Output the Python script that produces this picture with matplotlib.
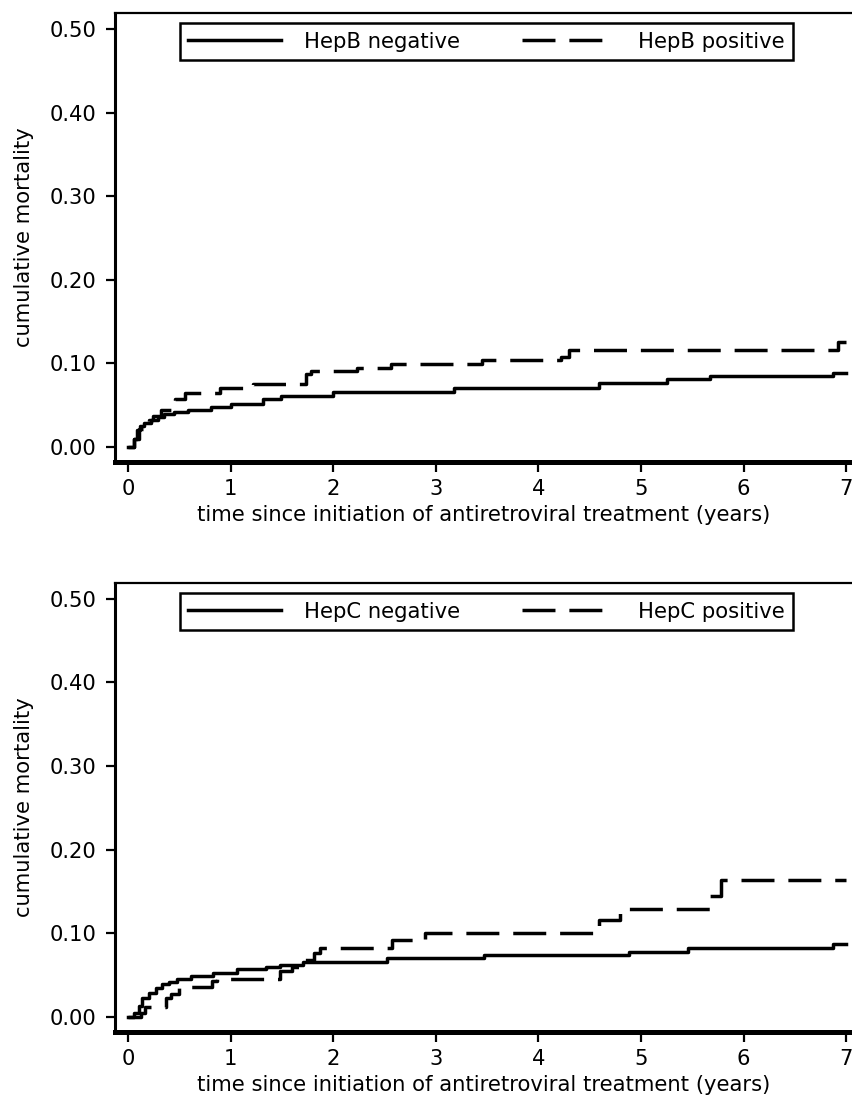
import matplotlib
matplotlib.use("Agg")
import matplotlib.pyplot as plt

plt.rcParams['font.family'] = ['DejaVu Sans']
plt.rcParams['font.size'] = 15.2

# HepB panel
hepb_neg_t = [0, 0.06, 0.09, 0.12, 0.16, 0.22, 0.29, 0.35, 0.45, 0.58, 0.81, 1.0,
              1.32, 1.49, 2.0, 3.18, 4.59, 5.25, 5.67, 6.87, 7.0]
hepb_neg_v = [0, 0.010, 0.020, 0.025, 0.029, 0.032, 0.036, 0.040, 0.042, 0.044, 0.048, 0.052,
              0.057, 0.061, 0.066, 0.071, 0.076, 0.081, 0.085, 0.088, 0.088]
hepb_pos_t = [0, 0.06, 0.11, 0.2, 0.24, 0.32, 0.46, 0.56, 0.9, 1.22, 1.73, 1.78,
              2.23, 2.56, 3.45, 4.22, 4.3, 6.92, 7.0]
hepb_pos_v = [0, 0.010, 0.022, 0.032, 0.037, 0.044, 0.057, 0.065, 0.071, 0.075, 0.087, 0.091,
              0.095, 0.099, 0.104, 0.108, 0.116, 0.125, 0.125]

# HepC panel
hepc_neg_t = [0, 0.06, 0.11, 0.14, 0.2, 0.27, 0.33, 0.40, 0.48, 0.61, 0.83, 1.06,
              1.34, 1.48, 1.71, 2.52, 3.47, 4.88, 5.46, 6.87, 7.0]
hepc_neg_v = [0, 0.005, 0.013, 0.023, 0.029, 0.035, 0.039, 0.042, 0.045, 0.049, 0.053, 0.057,
              0.060, 0.062, 0.066, 0.070, 0.074, 0.078, 0.082, 0.087, 0.087]
hepc_pos_t = [0, 0.13, 0.17, 0.37, 0.42, 0.5, 0.82, 0.87, 1.48, 1.6, 1.71, 1.81, 1.87,
              2.57, 2.89, 4.59, 4.8, 5.67, 5.78, 7.0]
hepc_pos_v = [0, 0.005, 0.012, 0.023, 0.027, 0.036, 0.043, 0.045, 0.055, 0.060, 0.068, 0.076, 0.082,
              0.092, 0.100, 0.116, 0.129, 0.145, 0.164, 0.164]

yticks = [0.0, 0.1, 0.2, 0.3, 0.4, 0.5]
xticks = [0, 1, 2, 3, 4, 5, 6, 7]

panels = [
    (hepb_neg_t, hepb_neg_v, hepb_pos_t, hepb_pos_v, "HepB negative", "HepB positive", 0.5788),
    (hepc_neg_t, hepc_neg_v, hepc_pos_t, hepc_pos_v, "HepC negative", "HepC positive", 0.0593),
]

fig = plt.figure(figsize=(8.52, 10.97), dpi=100)

for nt, nv, pt, pv, lab_n, lab_p, bottom in panels:
    ax = fig.add_axes([0.135, bottom, 0.865, 0.4093])
    ax.step(nt, nv, where='post', color='black', lw=2.5, label=lab_n)
    ax.step(pt, pv, where='post', color='black', lw=2.5,
            linestyle=(0, (9.5, 4)), label=lab_p)
    ax.set_xlim(-0.127, 7.057)
    ax.set_ylim(-0.018, 0.519)
    ax.set_xticks(xticks)
    ax.set_yticks(yticks)
    ax.set_yticklabels(["%.2f" % v for v in yticks])
    ax.spines['right'].set_visible(False)
    ax.spines['bottom'].set_linewidth(3.6)
    ax.spines['left'].set_linewidth(2.2)
    ax.spines['top'].set_linewidth(1.6)
    ax.tick_params(axis='x', direction='out', length=7, width=1.6, pad=5.5)
    ax.tick_params(axis='y', direction='out', length=6.5, width=1.6, pad=7)
    ax.set_xlabel("time since initiation of antiretroviral treatment (years)", va='center')
    ax.xaxis.set_label_coords(0.5, -0.118)
    ax.set_ylabel("cumulative mortality", va='center')
    ax.yaxis.set_label_coords(-0.1235, 0.5)
    leg = ax.legend(loc='upper left', bbox_to_anchor=(0.088, 0.977, 0.832, 0),
                    mode='expand', ncol=2, borderaxespad=0, fancybox=False,
                    framealpha=1, edgecolor='black', handlelength=4.4,
                    handletextpad=1.1, borderpad=0.4)
    leg.get_frame().set_linewidth(1.8)

fig.savefig("out.png", dpi=100)
